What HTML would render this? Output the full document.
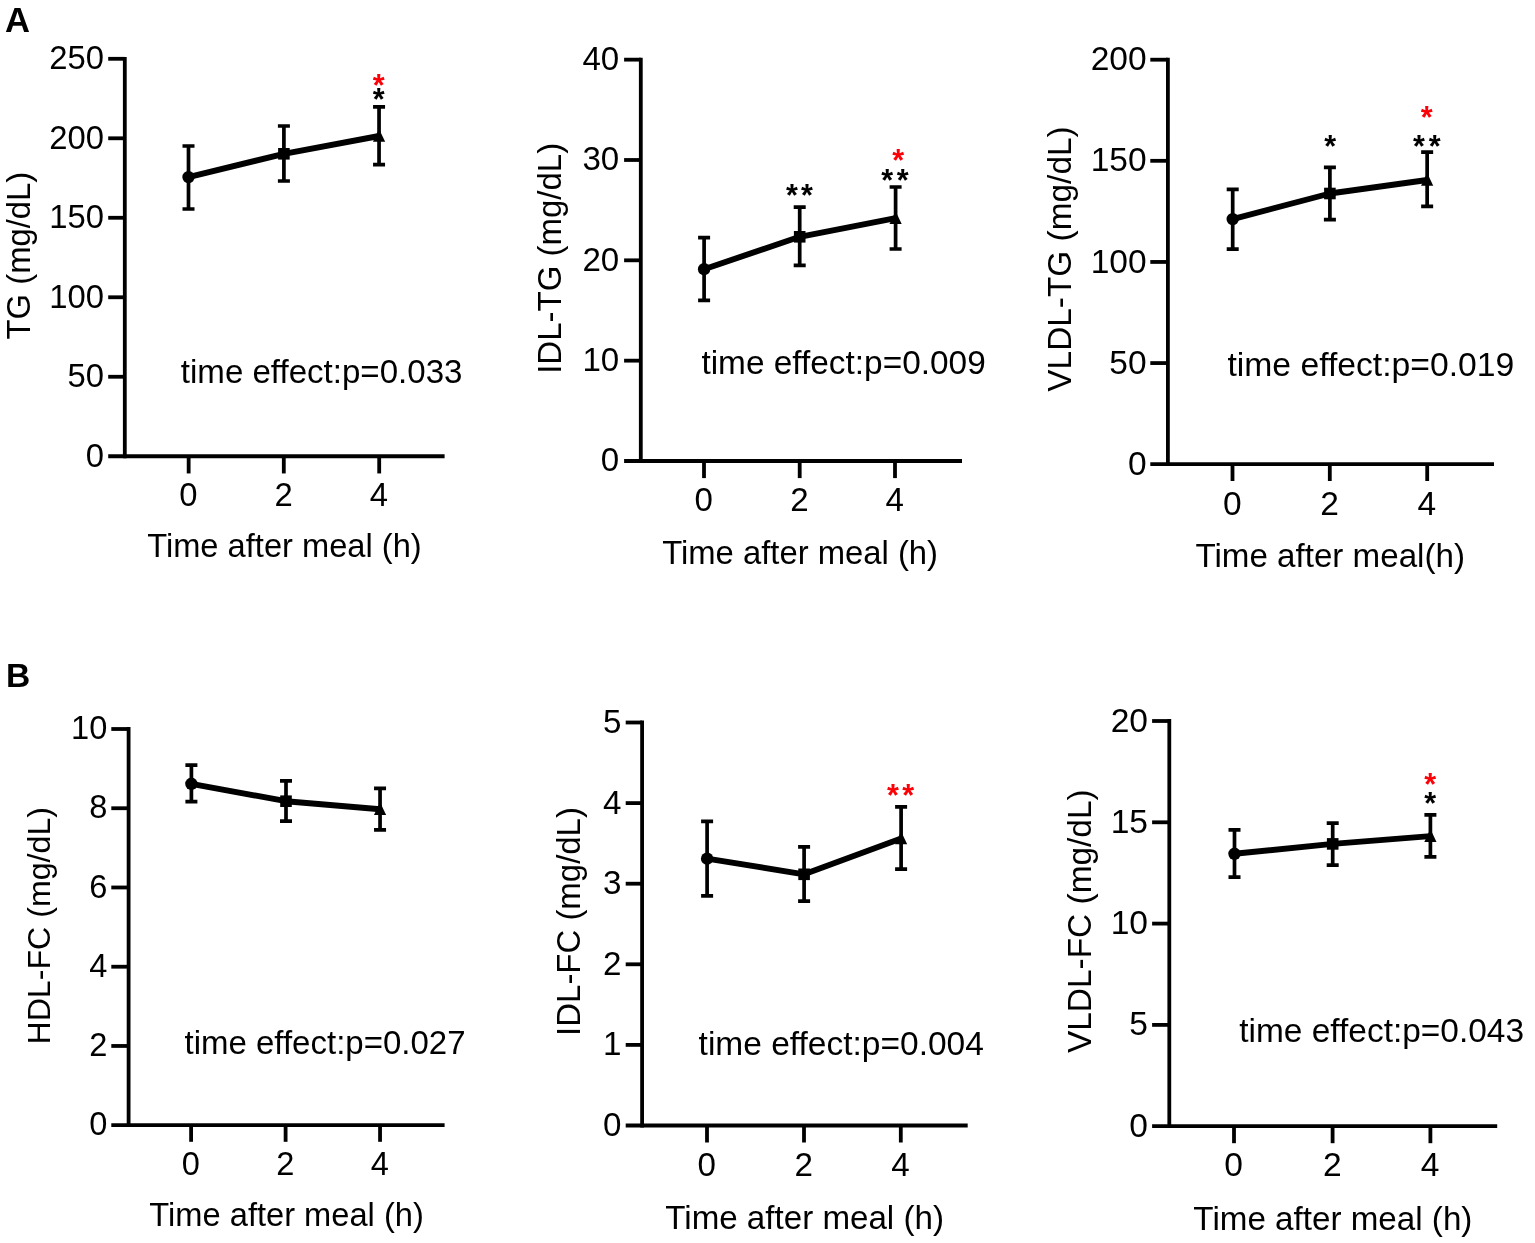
<!DOCTYPE html>
<html lang="en"><head><meta charset="utf-8"><title>Figure</title>
<style>html,body{margin:0;padding:0;background:#fff}svg{display:block}text{font-family:"Liberation Sans", Arial, sans-serif;fill:#000}</style>
</head><body>
<svg width="1535" height="1243" viewBox="0 0 1535 1243">
<rect width="1535" height="1243" fill="#fff"/>
<text x="5.0" y="31.7" font-size="34.6" font-weight="bold">A</text>
<text x="5.9" y="687.2" font-size="33.6" font-weight="bold">B</text>
<g id="A1">
<g stroke="#000" stroke-width="3.8" fill="none" stroke-linecap="butt">
<path d="M124.8 56.9 V458.15"/>
<path d="M108.2 456.25 H444.6"/>
<path d="M108.2 376.76 H124.8"/>
<path d="M108.2 297.27 H124.8"/>
<path d="M108.2 217.78 H124.8"/>
<path d="M108.2 138.29 H124.8"/>
<path d="M108.2 58.8 H124.8"/>
<path d="M188.65 456.25 V473.45"/>
<path d="M283.8 456.25 V473.45"/>
<path d="M379.2 456.25 V473.45"/>
</g>
<g font-size="32.8" text-anchor="end">
<text x="103.9" y="466.57">0</text>
<text x="103.9" y="387.08">50</text>
<text x="103.9" y="307.59">100</text>
<text x="103.9" y="228.1">150</text>
<text x="103.9" y="148.61">200</text>
<text x="103.9" y="69.12">250</text>
</g>
<g font-size="32.8" text-anchor="middle">
<text x="188.35" y="505.8">0</text>
<text x="283.5" y="505.8">2</text>
<text x="378.9" y="505.8">4</text>
<text x="284.45" y="557.2" font-size="32.65">Time after meal (h)</text>
<text transform="translate(30.1 255.6) rotate(-90)" font-size="32.8">TG (mg/dL)</text>
</g>
<text x="180.8" y="382.6" font-size="33.1">time effect:p=0.033</text>
<g stroke="#000" stroke-width="3.7" fill="none">
<path d="M188.5 146 V209 M182.5 146 H194.5 M182.5 209 H194.5"/>
<path d="M283.9 126 V181 M277.9 126 H289.9 M277.9 181 H289.9"/>
<path d="M379.05 106.8 V164.7 M373.05 106.8 H385.05 M373.05 164.7 H385.05"/>
</g>
<polyline points="188.5,177.1 283.9,153.8 379.05,136" fill="none" stroke="#000" stroke-width="5.9" stroke-linejoin="round"/>
<circle cx="188.5" cy="177.1" r="6.2" fill="#000"/>
<rect x="278.1" y="148" width="11.6" height="11.6" fill="#000"/>
<path d="M379.05 129 L385.15 141.8 L372.95 141.8 Z" fill="#000"/>
<text x="378.8" y="95.98" font-size="30.5" font-weight="bold" text-anchor="middle" style="fill:#fa0208">*</text>
<text x="378.8" y="109.93" font-size="30.5" font-weight="bold" text-anchor="middle" style="fill:#000">*</text>
</g>
<g id="A2">
<g stroke="#000" stroke-width="3.8" fill="none" stroke-linecap="butt">
<path d="M640.8 57.75 V462.9"/>
<path d="M624.1 461 H962"/>
<path d="M624.1 360.66 H640.8"/>
<path d="M624.1 260.32 H640.8"/>
<path d="M624.1 159.99 H640.8"/>
<path d="M624.1 59.65 H640.8"/>
<path d="M704 461 V478.1"/>
<path d="M799.7 461 V478.1"/>
<path d="M895 461 V478.1"/>
</g>
<g font-size="33.1" text-anchor="end">
<text x="619.2" y="471.42">0</text>
<text x="619.2" y="371.08">10</text>
<text x="619.2" y="270.74">20</text>
<text x="619.2" y="170.41">30</text>
<text x="619.2" y="70.07">40</text>
</g>
<g font-size="33.1" text-anchor="middle">
<text x="703.7" y="511.1">0</text>
<text x="799.4" y="511.1">2</text>
<text x="894.7" y="511.1">4</text>
<text x="800.1" y="563.9" font-size="32.8">Time after meal (h)</text>
<text transform="translate(561 258.3) rotate(-90)" font-size="33">IDL-TG (mg/dL)</text>
</g>
<text x="701.4" y="373.7" font-size="33.4">time effect:p=0.009</text>
<g stroke="#000" stroke-width="3.7" fill="none">
<path d="M704.1 237.7 V300.3 M698.1 237.7 H710.1 M698.1 300.3 H710.1"/>
<path d="M799.7 207.1 V265.4 M793.7 207.1 H805.7 M793.7 265.4 H805.7"/>
<path d="M895.6 187 V249 M889.6 187 H901.6 M889.6 249 H901.6"/>
</g>
<polyline points="704.1,269.2 799.7,236.8 895.6,218.2" fill="none" stroke="#000" stroke-width="5.9" stroke-linejoin="round"/>
<circle cx="704.1" cy="269.2" r="6.2" fill="#000"/>
<rect x="793.9" y="231" width="11.6" height="11.6" fill="#000"/>
<path d="M895.6 211.2 L901.7 224 L889.5 224 Z" fill="#000"/>
<text x="791.9" y="206.48" font-size="30.5" font-weight="bold" text-anchor="middle" style="fill:#000">*</text>
<text x="806.85" y="206.48" font-size="30.5" font-weight="bold" text-anchor="middle" style="fill:#000">*</text>
<text x="887.3" y="191.23" font-size="30.5" font-weight="bold" text-anchor="middle" style="fill:#000">*</text>
<text x="902.75" y="191.23" font-size="30.5" font-weight="bold" text-anchor="middle" style="fill:#000">*</text>
<text x="898.3" y="171.23" font-size="30.5" font-weight="bold" text-anchor="middle" style="fill:#fa0208">*</text>
</g>
<g id="A3">
<g stroke="#000" stroke-width="3.8" fill="none" stroke-linecap="butt">
<path d="M1167.9 57.8 V466.1"/>
<path d="M1150.3 464.2 H1494"/>
<path d="M1150.3 363.07 H1167.9"/>
<path d="M1150.3 261.95 H1167.9"/>
<path d="M1150.3 160.82 H1167.9"/>
<path d="M1150.3 59.7 H1167.9"/>
<path d="M1232.5 464.2 V481"/>
<path d="M1329.8 464.2 V481"/>
<path d="M1427.2 464.2 V481"/>
</g>
<g font-size="33.5" text-anchor="end">
<text x="1146.6" y="474.76">0</text>
<text x="1146.6" y="373.63">50</text>
<text x="1146.6" y="272.51">100</text>
<text x="1146.6" y="171.38">150</text>
<text x="1146.6" y="70.26">200</text>
</g>
<g font-size="33.5" text-anchor="middle">
<text x="1232.2" y="514.6">0</text>
<text x="1329.5" y="514.6">2</text>
<text x="1426.9" y="514.6">4</text>
<text x="1330.2" y="566.9" font-size="33.15">Time after meal(h)</text>
<text transform="translate(1070.9 259) rotate(-90)" font-size="33.4">VLDL-TG (mg/dL)</text>
</g>
<text x="1227.4" y="375.7" font-size="33.7">time effect:p=0.019</text>
<g stroke="#000" stroke-width="3.7" fill="none">
<path d="M1232.7 189.4 V249.2 M1226.7 189.4 H1238.7 M1226.7 249.2 H1238.7"/>
<path d="M1329.9 167.4 V219.7 M1323.9 167.4 H1335.9 M1323.9 219.7 H1335.9"/>
<path d="M1427.15 152.1 V206.3 M1421.15 152.1 H1433.15 M1421.15 206.3 H1433.15"/>
</g>
<polyline points="1232.7,219.1 1329.9,193.5 1427.15,180" fill="none" stroke="#000" stroke-width="5.9" stroke-linejoin="round"/>
<circle cx="1232.7" cy="219.1" r="6.2" fill="#000"/>
<rect x="1324.1" y="187.7" width="11.6" height="11.6" fill="#000"/>
<path d="M1427.15 173 L1433.25 185.8 L1421.05 185.8 Z" fill="#000"/>
<text x="1330.1" y="156.73" font-size="30.5" font-weight="bold" text-anchor="middle" style="fill:#000">*</text>
<text x="1418.95" y="156.73" font-size="30.5" font-weight="bold" text-anchor="middle" style="fill:#000">*</text>
<text x="1434.6" y="156.73" font-size="30.5" font-weight="bold" text-anchor="middle" style="fill:#000">*</text>
<text x="1426.8" y="127.53" font-size="30.5" font-weight="bold" text-anchor="middle" style="fill:#fa0208">*</text>
</g>
<g id="B1">
<g stroke="#000" stroke-width="3.8" fill="none" stroke-linecap="butt">
<path d="M128.6 727.1 V1127.1"/>
<path d="M111.3 1125.2 H444.6"/>
<path d="M111.3 1045.96 H128.6"/>
<path d="M111.3 966.72 H128.6"/>
<path d="M111.3 887.48 H128.6"/>
<path d="M111.3 808.24 H128.6"/>
<path d="M111.3 729 H128.6"/>
<path d="M191.1 1125.2 V1141.8"/>
<path d="M285.6 1125.2 V1141.8"/>
<path d="M380.05 1125.2 V1141.8"/>
</g>
<g font-size="32.6" text-anchor="end">
<text x="107.3" y="1135.45">0</text>
<text x="107.3" y="1056.21">2</text>
<text x="107.3" y="976.97">4</text>
<text x="107.3" y="897.73">6</text>
<text x="107.3" y="818.49">8</text>
<text x="107.3" y="739.25">10</text>
</g>
<g font-size="32.6" text-anchor="middle">
<text x="190.8" y="1174.5">0</text>
<text x="285.3" y="1174.5">2</text>
<text x="379.75" y="1174.5">4</text>
<text x="286.6" y="1226.1" font-size="32.65">Time after meal (h)</text>
<text transform="translate(50.4 925.8) rotate(-90)" font-size="32.15">HDL-FC (mg/dL)</text>
</g>
<text x="184.5" y="1054" font-size="33">time effect:p=0.027</text>
<g stroke="#000" stroke-width="3.7" fill="none">
<path d="M191.4 765.2 V801.7 M185.4 765.2 H197.4 M185.4 801.7 H197.4"/>
<path d="M286 780.9 V821.1 M280 780.9 H292 M280 821.1 H292"/>
<path d="M380.05 788.3 V829.8 M374.05 788.3 H386.05 M374.05 829.8 H386.05"/>
</g>
<polyline points="191.4,783.8 286,801.2 380.05,809.3" fill="none" stroke="#000" stroke-width="5.9" stroke-linejoin="round"/>
<circle cx="191.4" cy="783.8" r="6.2" fill="#000"/>
<rect x="280.2" y="795.4" width="11.6" height="11.6" fill="#000"/>
<path d="M380.05 802.3 L386.15 815.1 L373.95 815.1 Z" fill="#000"/>
</g>
<g id="B2">
<g stroke="#000" stroke-width="3.8" fill="none" stroke-linecap="butt">
<path d="M642.1 720.6 V1127.4"/>
<path d="M625.7 1125.5 H967.7"/>
<path d="M625.7 1044.9 H642.1"/>
<path d="M625.7 964.3 H642.1"/>
<path d="M625.7 883.7 H642.1"/>
<path d="M625.7 803.1 H642.1"/>
<path d="M625.7 722.5 H642.1"/>
<path d="M707 1125.5 V1142.5"/>
<path d="M804 1125.5 V1142.5"/>
<path d="M900.8 1125.5 V1142.5"/>
</g>
<g font-size="33.2" text-anchor="end">
<text x="621.5" y="1135.95">0</text>
<text x="621.5" y="1055.35">1</text>
<text x="621.5" y="974.75">2</text>
<text x="621.5" y="894.15">3</text>
<text x="621.5" y="813.55">4</text>
<text x="621.5" y="732.95">5</text>
</g>
<g font-size="33.2" text-anchor="middle">
<text x="706.7" y="1175.6">0</text>
<text x="803.7" y="1175.6">2</text>
<text x="900.5" y="1175.6">4</text>
<text x="804.6" y="1229.3" font-size="33.15">Time after meal (h)</text>
<text transform="translate(580.4 921.5) rotate(-90)" font-size="32.95">IDL-FC (mg/dL)</text>
</g>
<text x="698.6" y="1054.9" font-size="33.5">time effect:p=0.004</text>
<g stroke="#000" stroke-width="3.7" fill="none">
<path d="M707.1 821.3 V895.9 M701.1 821.3 H713.1 M701.1 895.9 H713.1"/>
<path d="M804.1 846.8 V901.1 M798.1 846.8 H810.1 M798.1 901.1 H810.1"/>
<path d="M901.1 806.9 V869.1 M895.1 806.9 H907.1 M895.1 869.1 H907.1"/>
</g>
<polyline points="707.1,858.7 804.1,874.3 901.1,838.4" fill="none" stroke="#000" stroke-width="5.9" stroke-linejoin="round"/>
<circle cx="707.1" cy="858.7" r="6.2" fill="#000"/>
<rect x="798.3" y="868.5" width="11.6" height="11.6" fill="#000"/>
<path d="M901.1 831.4 L907.2 844.2 L895 844.2 Z" fill="#000"/>
<text x="892.95" y="806.03" font-size="30.5" font-weight="bold" text-anchor="middle" style="fill:#fa0208">*</text>
<text x="908.1" y="806.03" font-size="30.5" font-weight="bold" text-anchor="middle" style="fill:#fa0208">*</text>
</g>
<g id="B3">
<g stroke="#000" stroke-width="3.8" fill="none" stroke-linecap="butt">
<path d="M1169.3 719.1 V1128.1"/>
<path d="M1152.1 1126.2 H1497.2"/>
<path d="M1152.1 1024.9 H1169.3"/>
<path d="M1152.1 923.6 H1169.3"/>
<path d="M1152.1 822.3 H1169.3"/>
<path d="M1152.1 721 H1169.3"/>
<path d="M1234 1126.2 V1143.2"/>
<path d="M1332.6 1126.2 V1143.2"/>
<path d="M1430.4 1126.2 V1143.2"/>
</g>
<g font-size="33.6" text-anchor="end">
<text x="1148" y="1136.79">0</text>
<text x="1148" y="1035.49">5</text>
<text x="1148" y="934.19">10</text>
<text x="1148" y="832.89">15</text>
<text x="1148" y="731.59">20</text>
</g>
<g font-size="33.6" text-anchor="middle">
<text x="1233.7" y="1176.4">0</text>
<text x="1332.3" y="1176.4">2</text>
<text x="1430.1" y="1176.4">4</text>
<text x="1332.9" y="1230.2" font-size="33.2">Time after meal (h)</text>
<text transform="translate(1091 921.2) rotate(-90)" font-size="33.43">VLDL-FC (mg/dL)</text>
</g>
<text x="1239.3" y="1042.3" font-size="33.45">time effect:p=0.043</text>
<g stroke="#000" stroke-width="3.7" fill="none">
<path d="M1234.5 829.9 V877.1 M1228.5 829.9 H1240.5 M1228.5 877.1 H1240.5"/>
<path d="M1332.7 823.2 V865.1 M1326.7 823.2 H1338.7 M1326.7 865.1 H1338.7"/>
<path d="M1430.4 814.8 V856.9 M1424.4 814.8 H1436.4 M1424.4 856.9 H1436.4"/>
</g>
<polyline points="1234.5,853.8 1332.7,843.9 1430.4,836.1" fill="none" stroke="#000" stroke-width="5.9" stroke-linejoin="round"/>
<circle cx="1234.5" cy="853.8" r="6.2" fill="#000"/>
<rect x="1326.9" y="838.1" width="11.6" height="11.6" fill="#000"/>
<path d="M1430.4 829.1 L1436.5 841.9 L1424.3 841.9 Z" fill="#000"/>
<text x="1430.15" y="794.53" font-size="30.5" font-weight="bold" text-anchor="middle" style="fill:#fa0208">*</text>
<text x="1430.15" y="814.43" font-size="30.5" font-weight="bold" text-anchor="middle" style="fill:#000">*</text>
</g>
</svg>
</body></html>
